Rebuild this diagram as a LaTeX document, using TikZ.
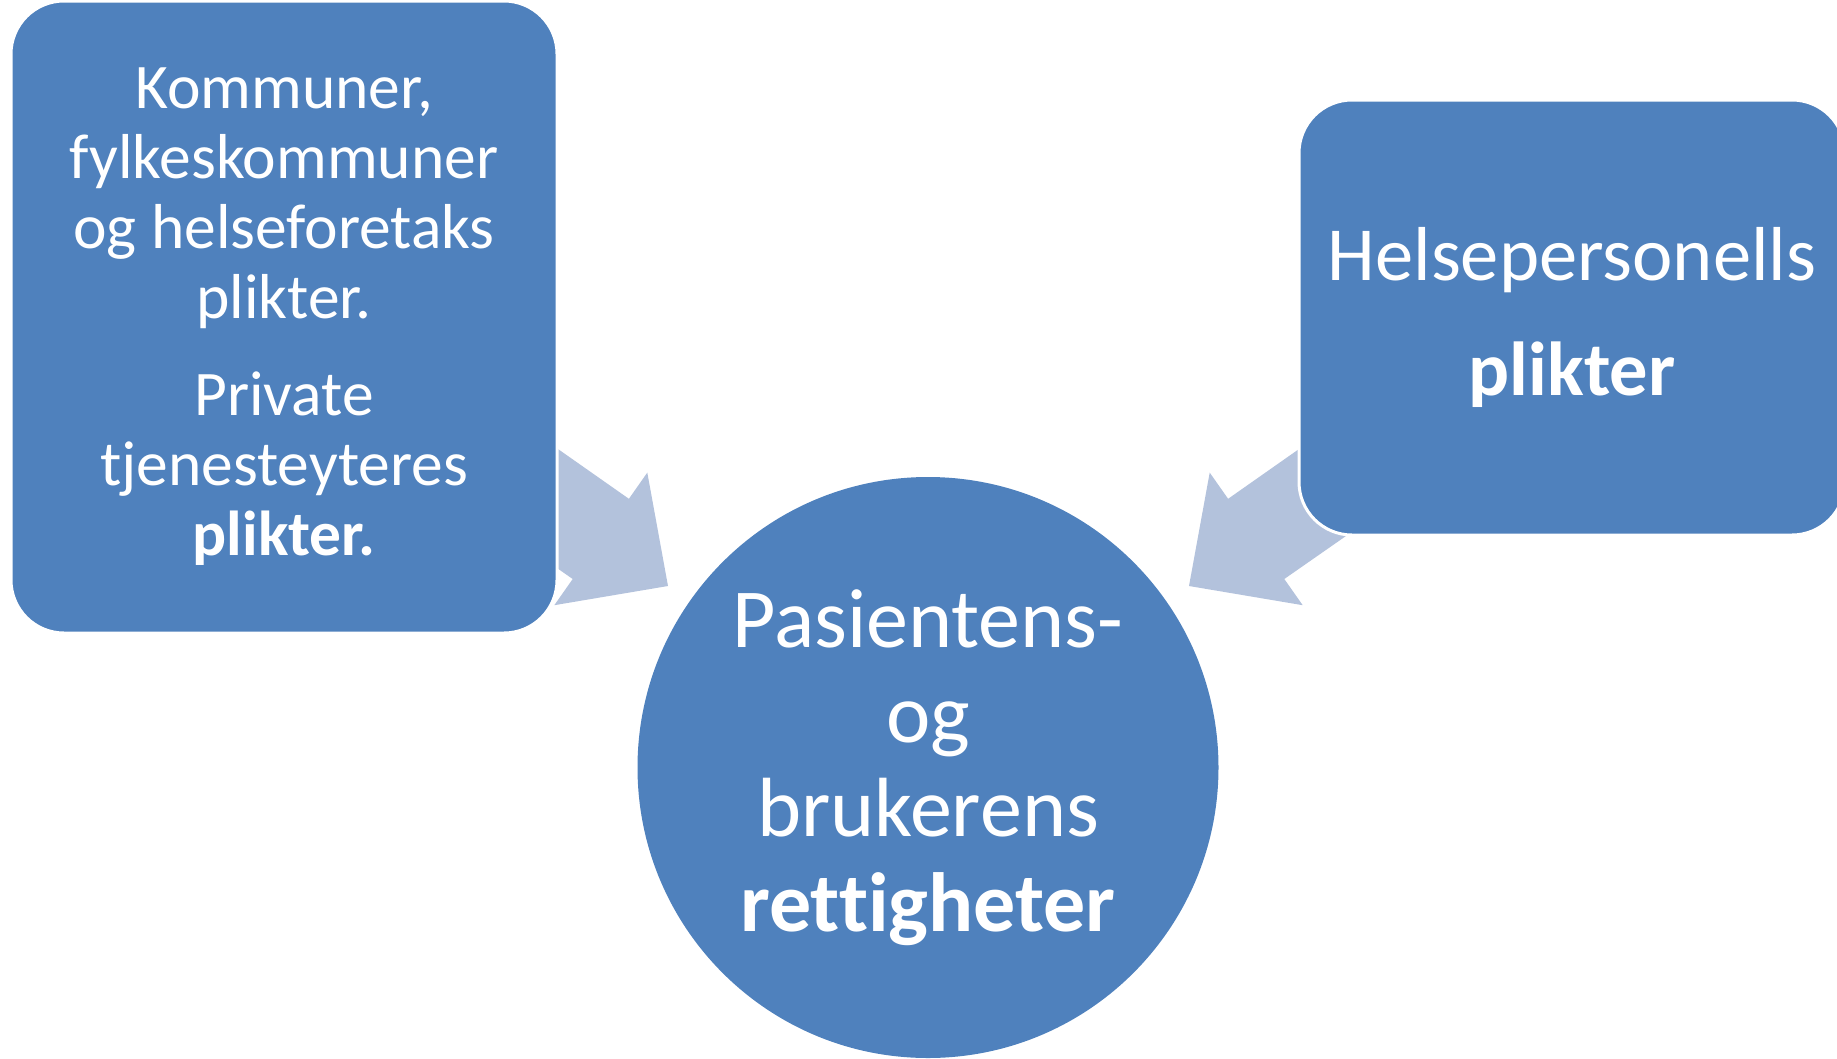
\documentclass[tikz,border=0pt]{standalone}
\usepackage{fontspec}
\setmainfont{Carlito}[Ligatures={NoCommon}]
\definecolor{boxblue}{HTML}{4F81BD}
\definecolor{arrowblue}{HTML}{B3C2DC}
\begin{document}
\begin{tikzpicture}[x=1pt,y=-1pt,
  blk/.style={fill=boxblue, draw=white, line width=3pt, text=white, align=center, inner sep=0pt},
  rbox/.style={blk, rounded corners=53pt, minimum width=546pt},
  blockarrow/.style={fill=arrowblue, draw=none}]
\useasboundingbox (0,0) rectangle (1837,1058);
% block arrows (behind the boxes)
\fill[blockarrow] (668,586) -- (647.3,472.6) -- (628.9,498.8) -- (491,402) -- (435,483) -- (572.7,579) -- (554.3,605.2) -- cycle;
\fill[blockarrow] (1189,586) -- (1209.7,472.6) -- (1228.1,498.8) -- (1366,402) -- (1422,483) -- (1284.3,579) -- (1302.7,605.2) -- cycle;
% boxes
\node[rbox, minimum height=632pt, font=\fontsize{63.5}{70}\selectfont] (left) at (284,317)
  {Kommuner,\\fylkeskommuner\\og helseforetaks\\plikter.\\[27pt]Private\\tjenesteyteres\\\textbf{plikter.}};
\node[rbox, minimum height=435pt, font=\fontsize{76.5}{115}\selectfont] (right) at (1572,317.5)
  {Helsepersonells\\\textbf{plikter}};
\node[blk, circle, draw=none, minimum size=581pt, font=\fontsize{84}{94.5}\selectfont] (centre) at (928,767.5)
  {Pasientens-\\og\\brukerens\\\textbf{rettigheter}};
\end{tikzpicture}
\end{document}
